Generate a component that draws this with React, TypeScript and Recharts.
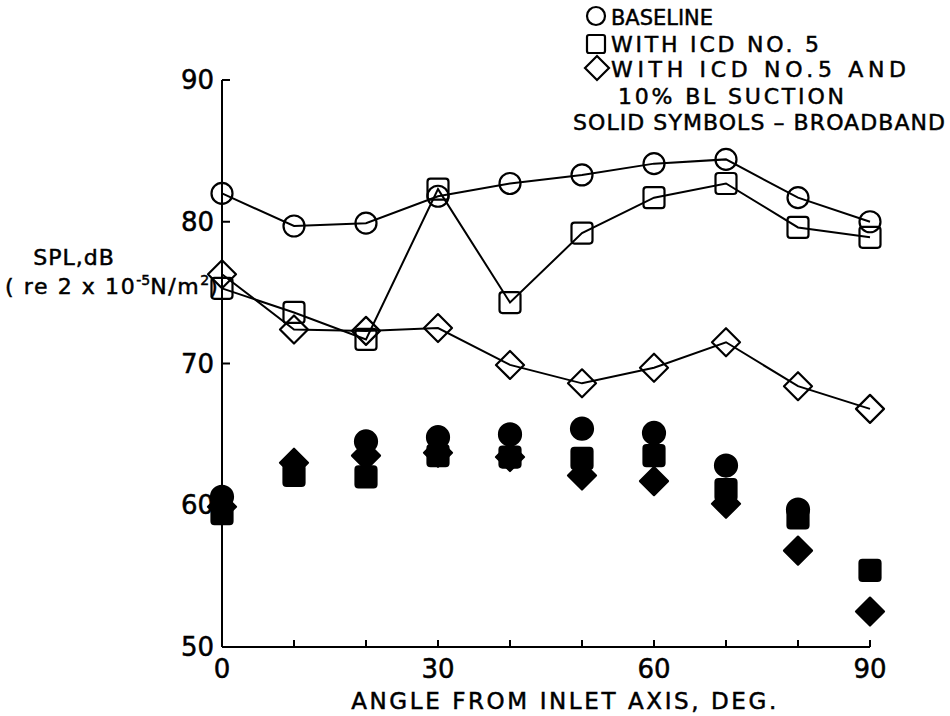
import React from "react";
import { ComposedChart, Scatter, XAxis, YAxis } from "recharts";

// angle from inlet axis, deg
const angles = [0, 10, 20, 30, 40, 50, 60, 70, 80, 90];

// open symbols, dB
const baseline = [82.0, 79.7, 79.9, 81.8, 82.7, 83.3, 84.1, 84.4, 81.7, 80.0];
const icd5 = [75.3, 73.6, 71.7, 82.3, 74.3, 79.2, 81.7, 82.7, 79.6, 78.9];
const icd5Suction = [76.3, 72.4, 72.3, 72.5, 69.9, 68.6, 69.7, 71.5, 68.4, 66.8];

// solid symbols - broadband, dB (null = not shown)
const baselineBroad = [60.6, null, 64.5, 64.8, 65.0, 65.4, 65.1, 62.8, 59.7, null];
const icd5Broad = [59.4, 62.1, 62.0, 63.5, 63.4, 63.3, 63.5, 61.1, 59.1, 55.4];
const suctionBroad = [59.9, 63.0, 63.5, 63.7, 63.4, 62.1, 61.7, 60.1, 56.8, 52.5];

const xTicks = [0, 10, 20, 30, 40, 50, 60, 70, 80, 90];
const xLabels = [0, 30, 60, 90];
const yTicks = [50, 60, 70, 80, 90];

const toPoints = (vals: (number | null)[]) =>
  angles
    .map((a, i) => ({ x: a, y: vals[i] }))
    .filter((p) => p.y !== null);

const FONT = "'DejaVu Sans', sans-serif";
const txt = { fontFamily: FONT, fill: "#000", stroke: "#000", strokeWidth: 0.5 };

const Circle = ({ cx, cy, solid }: any) => (
  <circle
    cx={cx}
    cy={cy}
    r={solid ? 11 : 10.5}
    fill={solid ? "#000" : "none"}
    stroke="#000"
    strokeWidth={2.2}
  />
);

const Square = ({ cx, cy, solid }: any) => (
  <rect
    x={cx - 10.5}
    y={cy - 10.5}
    width={21}
    height={21}
    rx={3}
    fill={solid ? "#000" : "none"}
    stroke="#000"
    strokeWidth={2.2}
  />
);

const Diamond = ({ cx, cy, solid }: any) => (
  <path
    d={`M${cx},${cy - 14} L${cx + 14},${cy} L${cx},${cy + 14} L${cx - 14},${cy} Z`}
    fill={solid ? "#000" : "none"}
    stroke="#000"
    strokeWidth={2.2}
    strokeLinejoin="round"
  />
);

const XTick = ({ x, y, payload }: any) => (
  <g>
    <line x1={x} y1={y} x2={x} y2={y - 7} stroke="#000" strokeWidth={2} />
    {xLabels.includes(payload.value) && (
      <text x={x} y={y + 31} textAnchor="middle" fontSize={26} {...txt}>
        {payload.value}
      </text>
    )}
  </g>
);

const YTick = ({ x, y, payload }: any) => (
  <g>
    <line x1={x} y1={y} x2={x + 8} y2={y} stroke="#000" strokeWidth={2} />
    <text x={x - 8} y={y + 9} textAnchor="end" fontSize={26} {...txt}>
      {payload.value}
    </text>
  </g>
);

const lineStyle = { stroke: "#000", strokeWidth: 2 };

export default function App() {
  return (
    <div style={{ position: "absolute", left: 0, top: 0, width: 950, height: 716, background: "#fff" }}>
      <ComposedChart
        width={950}
        height={716}
        margin={{ top: 80, right: 80, bottom: 29, left: 162 }}
      >
        <XAxis
          type="number"
          dataKey="x"
          domain={[0, 90]}
          ticks={xTicks}
          interval={0}
          height={40}
          tickSize={0}
          tickMargin={0}
          tickLine={false}
          axisLine={{ stroke: "#000", strokeWidth: 2 }}
          tick={<XTick />}
        />
        <YAxis
          type="number"
          dataKey="y"
          domain={[50, 90]}
          ticks={yTicks}
          interval={0}
          width={60}
          tickSize={0}
          tickMargin={0}
          tickLine={false}
          axisLine={{ stroke: "#000", strokeWidth: 2 }}
          tick={<YTick />}
        />
        <Scatter data={toPoints(baseline)} line={lineStyle} lineType="joint" shape={(p: any) => <Circle {...p} />} isAnimationActive={false} />
        <Scatter data={toPoints(icd5)} line={lineStyle} lineType="joint" shape={(p: any) => <Square {...p} />} isAnimationActive={false} />
        <Scatter data={toPoints(icd5Suction)} line={lineStyle} lineType="joint" shape={(p: any) => <Diamond {...p} />} isAnimationActive={false} />
        <Scatter data={toPoints(baselineBroad)} shape={(p: any) => <Circle {...p} solid />} isAnimationActive={false} />
        <Scatter data={toPoints(icd5Broad)} shape={(p: any) => <Square {...p} solid />} isAnimationActive={false} />
        <Scatter data={toPoints(suctionBroad)} shape={(p: any) => <Diamond {...p} solid />} isAnimationActive={false} />

        {/* axis titles */}
        <text x={565} y={709} textAnchor="middle" fontSize={23} letterSpacing={2.6} {...txt}>
          ANGLE FROM INLET AXIS, DEG.
        </text>
        <text x={74} y={265} textAnchor="middle" fontSize={22} letterSpacing={1} {...txt}>
          SPL,dB
        </text>
        <text x={5} y={294} fontSize={22} letterSpacing={1.6} {...txt}>
          ( re 2 x 10<tspan dy={-9} fontSize={14} letterSpacing={0}>-5</tspan>
          <tspan dy={9}>N/m</tspan>
          <tspan dy={-9} fontSize={14} letterSpacing={0}>2</tspan>
          <tspan dy={9}>)</tspan>
        </text>

        {/* legend */}
        <circle cx={596} cy={16} r={9} fill="none" stroke="#000" strokeWidth={2.2} />
        <text x={611} y={25} fontSize={22} textLength={102} lengthAdjust="spacingAndGlyphs" {...txt}>BASELINE</text>
        <rect x={587} y={35} width={18} height={18} rx={2} fill="none" stroke="#000" strokeWidth={2.2} />
        <text x={611} y={52} fontSize={22} textLength={208} lengthAdjust="spacing" {...txt}>WITH ICD NO. 5</text>
        <path d="M585,68 L597,56 L609,68 L597,80 Z" fill="none" stroke="#000" strokeWidth={2.2} />
        <text x={611} y={77} fontSize={22} textLength={295} lengthAdjust="spacing" {...txt}>WITH ICD NO.5 AND</text>
        <text x={618} y={104} fontSize={22} textLength={226} lengthAdjust="spacing" {...txt}>10% BL SUCTION</text>
        <text x={573} y={130} fontSize={22} textLength={372} lengthAdjust="spacing" {...txt}>SOLID SYMBOLS – BROADBAND</text>
      </ComposedChart>
    </div>
  );
}
